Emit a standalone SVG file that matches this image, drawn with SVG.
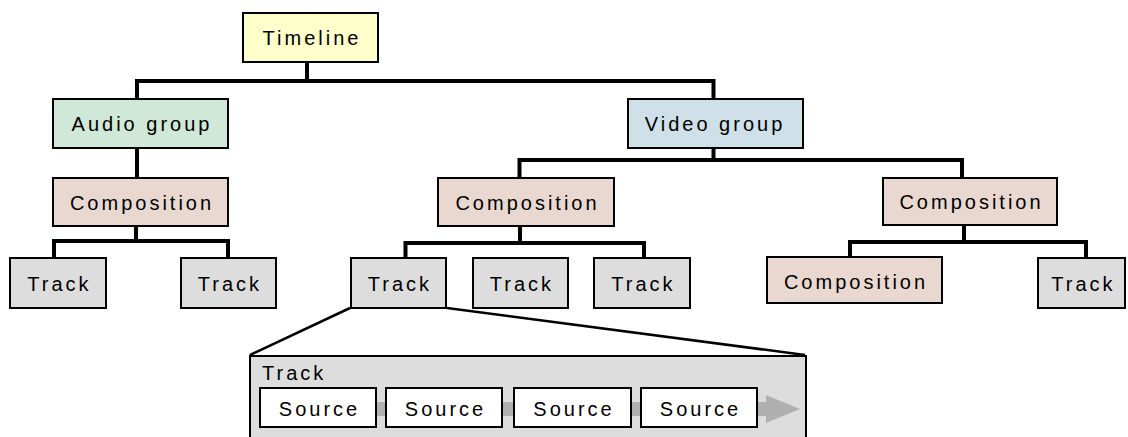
<svg xmlns="http://www.w3.org/2000/svg" width="1128" height="437" viewBox="0 0 1128 437">
  <style>
    .box { stroke: #000; stroke-width: 2; }
    .timeline { fill: #ffffcc; }
    .audio { fill: #d0e8d8; }
    .video { fill: #d0e0e8; }
    .comp { fill: #e8d8d0; }
    .track { fill: #dddddd; }
    .source { fill: #ffffff; }
    .label { font-family: "Liberation Sans", Arial, sans-serif; font-size: 20px; letter-spacing: 3px; fill: #000; text-anchor: middle; }
    .bus { fill: none; stroke: #000; stroke-width: 4; stroke-linejoin: miter; }
    .zoom { fill: none; stroke: #000; stroke-width: 2.5; }
  </style>

  <!-- tree connectors -->
  <g id="connectors">
    <path class="bus" d="M307 62 V81"/>
    <path class="bus" d="M137 98 V81 H713.5 V98"/>
    <path class="bus" d="M137 149 V177"/>
    <path class="bus" d="M713.5 149 V160"/>
    <path class="bus" d="M519.5 177 V160 H962 V177"/>
    <path class="bus" d="M136 227 V241"/>
    <path class="bus" d="M54 257 V241 H228 V257"/>
    <path class="bus" d="M520 227 V243"/>
    <path class="bus" d="M405.5 257 V243 H644 V257"/>
    <path class="bus" d="M964 226 V242"/>
    <path class="bus" d="M850 256 V242 H1086 V257"/>
    <!-- expansion lines from the first video track to its detail panel -->
    <path class="zoom" d="M350 308 L250 355"/>
    <path class="zoom" d="M447 308 L805 355"/>
  </g>

  <g id="timeline">
    <rect class="box timeline" x="243" y="13" width="135" height="49"/>
    <text class="label" x="312" y="44.5">Timeline</text>
  </g>

  <g id="audio-group">
    <rect class="box audio" x="53" y="99" width="175" height="49"/>
    <text class="label" x="142" y="131">Audio group</text>
  </g>

  <g id="video-group">
    <rect class="box video" x="628" y="99" width="175" height="49"/>
    <text class="label" x="715" y="131">Video group</text>
  </g>

  <g id="audio-composition">
    <rect class="box comp" x="53" y="178" width="175" height="48"/>
    <text class="label" x="142" y="209.5">Composition</text>
  </g>

  <g id="video-composition-1">
    <rect class="box comp" x="438" y="178" width="176" height="48"/>
    <text class="label" x="527.5" y="209.5">Composition</text>
  </g>

  <g id="video-composition-2">
    <rect class="box comp" x="883" y="178" width="174" height="47"/>
    <text class="label" x="971.5" y="209">Composition</text>
  </g>

  <g id="audio-track-1">
    <rect class="box track" x="10" y="258" width="96" height="50"/>
    <text class="label" x="59.5" y="290.5">Track</text>
  </g>

  <g id="audio-track-2">
    <rect class="box track" x="181" y="258" width="95" height="50"/>
    <text class="label" x="230" y="290.5">Track</text>
  </g>

  <g id="video-track-1">
    <rect class="box track" x="351" y="258" width="95" height="50"/>
    <text class="label" x="400" y="290.5">Track</text>
  </g>

  <g id="video-track-2">
    <rect class="box track" x="473" y="258" width="95" height="50"/>
    <text class="label" x="522" y="290.5">Track</text>
  </g>

  <g id="video-track-3">
    <rect class="box track" x="594" y="258" width="96" height="50"/>
    <text class="label" x="643.5" y="290.5">Track</text>
  </g>

  <g id="nested-composition">
    <rect class="box comp" x="767" y="257" width="175" height="46"/>
    <text class="label" x="856" y="288.5">Composition</text>
  </g>

  <g id="video-track-4">
    <rect class="box track" x="1038" y="258" width="87" height="50"/>
    <text class="label" x="1083.5" y="291">Track</text>
  </g>

  <!-- detail view of a track: sources laid out along a time arrow -->
  <g id="track-detail">
    <rect class="box track" x="250" y="356" width="556" height="100"/>
    <text class="label" x="262" y="380" style="text-anchor:start">Track</text>
    <rect x="262" y="402" width="504" height="14" fill="#b0b0b0"/>
    <polygon points="766,395 800,409 766,423" fill="#b0b0b0"/>
  </g>

  <g id="source-1">
    <rect class="box source" x="260" y="388" width="116" height="39"/>
    <text class="label" x="319.5" y="416">Source</text>
  </g>
  <g id="source-2">
    <rect class="box source" x="386" y="388" width="116" height="39"/>
    <text class="label" x="445.5" y="416">Source</text>
  </g>
  <g id="source-3">
    <rect class="box source" x="514" y="388" width="117" height="39"/>
    <text class="label" x="574" y="416">Source</text>
  </g>
  <g id="source-4">
    <rect class="box source" x="641" y="388" width="116" height="39"/>
    <text class="label" x="700.5" y="416">Source</text>
  </g>
</svg>
